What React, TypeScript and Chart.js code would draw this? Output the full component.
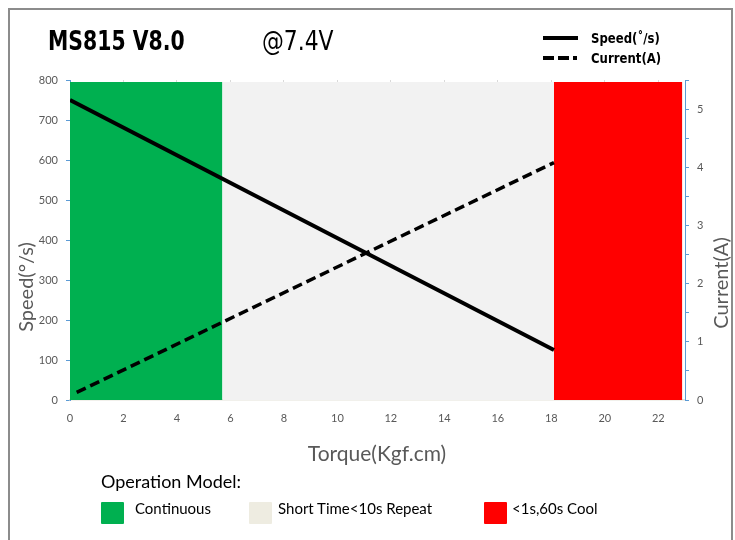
import React, { useEffect, useRef } from "react";
import { Chart, registerables } from "chart.js";

Chart.register(...registerables);

// ---- data ----
const speedTorque = [0, 18.1];
const speedValues = [750, 125];
const currentTorque = [0.25, 18.1];
const currentValues = [0.13, 4.08];

const zoneLabels = ["Continuous", "Short Time<10s Repeat", "<1s,60s Cool"];
const zoneStart = [0, 5.7, 18.1];
const zoneEnd = [5.7, 18.1, 22.9];
const zoneTop = [795, 795, 795];
const zoneColors = ["#00b050", "#f2f2f2", "#ff0000"];
const zoneLegendColors = ["#00b050", "#eeece1", "#ff0000"];

const xTicks = [0, 2, 4, 6, 8, 10, 12, 14, 16, 18, 20, 22];
const speedTicks = [0, 100, 200, 300, 400, 500, 600, 700, 800];
const currentTicks = [0, 1, 2, 3, 4, 5];

const TICK_FONT = { family: "Lato, 'Open Sans', sans-serif", size: 11 };
const NARROW = "'Liberation Sans Narrow', 'DejaVu Sans Condensed', 'Roboto Condensed', sans-serif";
const BODY = "Lato, 'Open Sans', sans-serif";

export default function App() {
  const ref = useRef<HTMLCanvasElement | null>(null);

  useEffect(() => {
    if (!ref.current) return;
    const zoneSets = zoneLabels.map((lbl, i) => ({
      type: "line" as const,
      label: lbl,
      data: [
        { x: zoneStart[i], y: zoneTop[i] },
        { x: zoneEnd[i], y: zoneTop[i] },
      ],
      yAxisID: "y",
      fill: "origin",
      backgroundColor: zoneColors[i],
      borderColor: zoneColors[i],
      borderWidth: 0,
      pointRadius: 0,
      order: 10,
    }));
    const chart = new Chart(ref.current, {
      type: "line",
      data: {
        datasets: [
          ...zoneSets,
          {
            label: "Speed(˚/s)",
            data: speedTorque.map((x, i) => ({ x, y: speedValues[i] })),
            yAxisID: "y",
            borderColor: "#000",
            borderWidth: 4,
            pointRadius: 0,
            fill: false,
            order: 1,
          },
          {
            label: "Current(A)",
            data: currentTorque.map((x, i) => ({ x, y: currentValues[i] })),
            yAxisID: "y1",
            borderColor: "#000",
            borderWidth: 3.5,
            borderDash: [10, 5],
            pointRadius: 0,
            fill: false,
            order: 0,
          },
        ] as any,
      },
      options: {
        animation: false,
        responsive: false,
        maintainAspectRatio: false,
        layout: { padding: { top: 80, bottom: 100, left: 0, right: 0 } },
        plugins: {
          legend: { display: false },
          tooltip: { enabled: false },
          title: { display: false },
        },
        scales: {
          x: {
            type: "linear",
            min: 0,
            max: 23,
            afterFit: (s: any) => {
              s.height = 40;
            },
            afterBuildTicks: (s: any) => {
              s.ticks = xTicks.map((v) => ({ value: v }));
            },
            ticks: { font: TICK_FONT, color: "#595959", padding: 12, maxRotation: 0 },
            grid: { color: "#d9d9d9", drawTicks: false, lineWidth: 1 },
            border: { color: "#e3e1d8", width: 1.5 },
          },
          y: {
            type: "linear",
            position: "left",
            min: 0,
            max: 800,
            afterFit: (s: any) => {
              s.width = 70;
            },
            afterBuildTicks: (s: any) => {
              s.ticks = speedTicks.map((v) => ({ value: v }));
            },
            ticks: { font: TICK_FONT, color: "#595959", padding: 8 },
            grid: {
              drawOnChartArea: false,
              drawTicks: true,
              tickLength: 4,
              tickColor: "#5b9bd5",
            },
            border: { color: "#5b9bd5" },
          },
          y1: {
            type: "linear",
            position: "right",
            min: 0,
            max: 5.5,
            afterFit: (s: any) => {
              s.width = 50;
            },
            afterBuildTicks: (s: any) => {
              const t: any[] = [];
              for (let i = 0; i <= currentTicks.length * 2 - 1; i++) t.push({ value: i * 0.5 });
              s.ticks = t;
            },
            ticks: {
              font: TICK_FONT,
              color: "#595959",
              padding: 8,
              callback: (v: any) => (currentTicks.includes(Number(v)) ? String(v) : ""),
            },
            grid: {
              drawOnChartArea: false,
              drawTicks: true,
              tickLength: 4,
              tickColor: "#5b9bd5",
            },
            border: { color: "#5b9bd5" },
          },
        },
      } as any,
    });
    return () => chart.destroy();
  }, []);

  const abs = (s: React.CSSProperties): React.CSSProperties => ({ position: "absolute", ...s });

  return (
    <div
      style={{
        position: "fixed",
        left: 0,
        top: 0,
        width: 735,
        height: 540,
        background: "#fff",
        overflow: "hidden",
      }}
    >
      <canvas ref={ref} width={735} height={540} style={abs({ left: 0, top: 0, width: 735, height: 540 })} />
      <div
        style={abs({
          left: 8,
          top: 8,
          width: 725,
          height: 560,
          border: "2px solid #8c8c8c",
          boxSizing: "border-box",
          pointerEvents: "none",
        })}
      />
      {/* Title */}
      <div
        style={abs({
          left: 48,
          top: 26,
          fontFamily: NARROW,
          fontWeight: 700,
          fontSize: 27,
          color: "#000",
          whiteSpace: "nowrap",
          lineHeight: "30px",
          transform: "scaleX(0.84)",
          transformOrigin: "left center",
        })}
      >
        MS815 V8.0
      </div>
      <div
        style={abs({
          left: 262,
          top: 26,
          fontFamily: NARROW,
          fontSize: 27,
          color: "#000",
          whiteSpace: "nowrap",
          lineHeight: "30px",
          transform: "scaleX(0.9)",
          transformOrigin: "left center",
        })}
      >
        @7.4V
      </div>
      {/* top legend */}
      <div style={abs({ left: 543, top: 36, width: 35, height: 4, background: "#000" })} />
      <div
        style={abs({
          left: 591,
          top: 29,
          fontFamily: NARROW,
          fontWeight: 700,
          fontSize: 14,
          lineHeight: "18px",
          whiteSpace: "nowrap",
          transform: "scaleX(0.93)",
          transformOrigin: "left center",
        })}
      >
        Speed(˚/s)
      </div>
      <div style={abs({ left: 543, top: 56, width: 11, height: 4, background: "#000" })} />
      <div style={abs({ left: 558, top: 56, width: 11, height: 4, background: "#000" })} />
      <div style={abs({ left: 573, top: 56, width: 4, height: 4, background: "#000" })} />
      <div
        style={abs({
          left: 591,
          top: 49,
          fontFamily: NARROW,
          fontWeight: 700,
          fontSize: 14,
          lineHeight: "18px",
          whiteSpace: "nowrap",
          transform: "scaleX(0.93)",
          transformOrigin: "left center",
        })}
      >
        Current(A)
      </div>
      {/* axis titles */}
      <div
        style={abs({
          left: 25,
          top: 287,
          transform: "translate(-50%, -50%) rotate(-90deg)",
          fontFamily: BODY,
          fontSize: 20,
          color: "#595959",
          whiteSpace: "nowrap",
          lineHeight: "22px",
        })}
      >
        Speed(°/s)
      </div>
      <div
        style={abs({
          left: 720,
          top: 283,
          transform: "translate(-50%, -50%) rotate(-90deg)",
          fontFamily: BODY,
          fontSize: 20,
          color: "#595959",
          whiteSpace: "nowrap",
          lineHeight: "22px",
        })}
      >
        Current(A)
      </div>
      <div
        style={abs({
          left: 377,
          top: 453,
          transform: "translate(-50%, -50%)",
          fontFamily: BODY,
          fontSize: 21,
          color: "#595959",
          whiteSpace: "nowrap",
          lineHeight: "24px",
        })}
      >
        Torque(Kgf.cm)
      </div>
      {/* bottom legend */}
      <div style={abs({ left: 101, top: 471, fontFamily: BODY, fontSize: 18, color: "#000", whiteSpace: "nowrap", lineHeight: "21px" })}>
        Operation Model:
      </div>
      {zoneLabels.map((lbl, i) => {
        const boxX = [101, 249, 484][i];
        const txtX = [135, 278, 512][i];
        return (
          <React.Fragment key={lbl}>
            <div style={abs({ left: boxX, top: 502, width: 23, height: 22, background: zoneLegendColors[i], borderRadius: 1 })} />
            <div style={abs({ left: txtX, top: 499, fontFamily: BODY, fontSize: 15, color: "#000", whiteSpace: "nowrap", lineHeight: "18px" })}>
              {lbl}
            </div>
          </React.Fragment>
        );
      })}
    </div>
  );
}
